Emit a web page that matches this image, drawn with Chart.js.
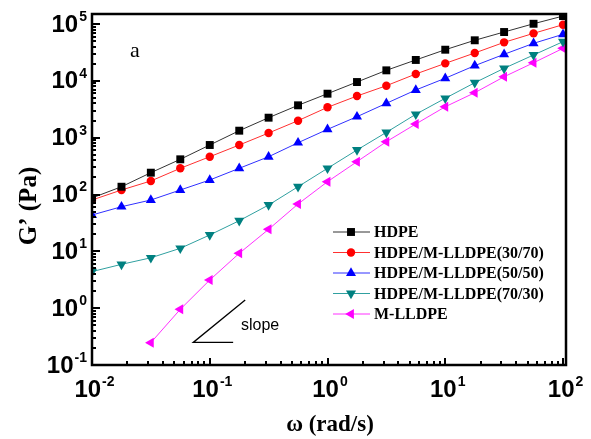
<!DOCTYPE html>
<html>
<head>
<meta charset="utf-8">
<script src="https://cdn.jsdelivr.net/npm/chart.js@4.4.0/dist/chart.umd.min.js"></script>
<style>
    html, body { margin: 0; padding: 0; background: #fff; }
    #wrap { width: 591px; height: 439px; position: relative; }
</style>
</head>
<body>
<div id="wrap"><canvas id="modulusChart"></canvas></div>
<script>
// ========== 储能模量 G' 数据 ==========

const omega = [0.01, 0.0178, 0.0316, 0.0562, 0.1, 0.178, 0.316, 0.562, 1, 1.78, 3.16, 5.62, 10, 17.8, 31.6, 56.2, 100];

const hdpe = [87, 137, 242, 416, 743, 1327, 2247, 3710, 5940, 9530, 15300, 23300, 35300, 51700, 72300, 101000, 138000];
const blend3070 = [80, 120, 173, 289, 462, 743, 1208, 1990, 3420, 5410, 8210, 13200, 20300, 30900, 47600, 68500, 97300];
const blend5050 = [43.6, 61, 80, 120, 180, 289, 462, 815, 1400, 2340, 4020, 6900, 11100, 18500, 29300, 45700, 65900];
const blend7030 = [4.4, 5.9, 7.7, 11.3, 19.4, 34.6, 65.3, 137, 289, 607, 1240, 2580, 4930, 9270, 16600, 28500, 48900];
const mlldpe = [null, null, 0.247, 0.955, 3.13, 9.23, 24.4, 68, 168, 378, 849, 1740, 3500, 6180, 11800, 20800, 37300];

const seriesNames = ['HDPE', 'HDPE/M-LLDPE(30/70)', 'HDPE/M-LLDPE(50/50)', 'HDPE/M-LLDPE(70/30)', 'M-LLDPE'];

// 坐标轴刻度 (10 的幂)
const xDecades = [-2, -1, 0, 1, 2];
const yDecades = [-1, 0, 1, 2, 3, 4, 5];

// 斜率示意三角 [ω, G']
const slopeCorner = [0.0724, 0.25];
const slopeTip = [0.2, 1.39];
const slopeBaseEnd = [0.158, 0.25];

const COLORS = {
    black: '#000000',
    red: '#ff0000',
    blue: '#0000ff',
    teal: '#008080',
    magenta: '#ff00ff'
};

function toPoints(values) {
    const pts = [];
    omega.forEach((w, i) => {
        if (values[i] !== null) pts.push({ x: w, y: values[i] });
    });
    return pts;
}

function makeDataset(label, values, color, lineColor, style, rotation, radius) {
    return {
        label: label,
        data: toPoints(values),
        borderColor: lineColor,
        backgroundColor: color,
        borderWidth: 1,
        pointStyle: style,
        rotation: rotation,
        pointRadius: radius,
        pointBorderWidth: 0,
        pointBorderColor: color,
        pointBackgroundColor: color,
        tension: 0
    };
}

function drawPow(ctx, exp, x, y, align) {
    // "10" + 上标指数
    const base = '10';
    const sup = String(exp);
    ctx.font = 'bold 24px "Liberation Sans", Arial, sans-serif';
    const wb = ctx.measureText(base).width;
    ctx.font = 'bold 14px "Liberation Sans", Arial, sans-serif';
    const ws = ctx.measureText(sup).width;
    let left;
    if (align === 'right') left = x - wb - ws;
    else left = x - (wb + ws) / 2;
    ctx.textBaseline = 'middle';
    ctx.textAlign = 'left';
    ctx.font = 'bold 24px "Liberation Sans", Arial, sans-serif';
    ctx.fillText(base, left, y);
    ctx.font = 'bold 14px "Liberation Sans", Arial, sans-serif';
    ctx.fillText(sup, left + wb + 1, y - 8);
}

const framePlugin = {
    id: 'frame',
    afterDraw(chart) {
        const ctx = chart.ctx;
        const area = chart.chartArea;
        const xs = chart.scales.x;
        const ys = chart.scales.y;
        ctx.save();
        ctx.fillStyle = '#000';
        ctx.strokeStyle = '#000';

        // 刻度线 (朝内)
        ctx.lineWidth = 2;
        ctx.beginPath();
        for (let d = -2; d <= 2; d++) {
            for (let m = 1; m <= 9; m++) {
                const v = m * Math.pow(10, d);
                if (v < xs.min || v > xs.max) continue;
                const px = Math.round(xs.getPixelForValue(v));
                const len = m === 1 ? 7 : 4;
                ctx.moveTo(px, area.bottom);
                ctx.lineTo(px, area.bottom - len);
            }
        }
        for (let d = -1; d <= 5; d++) {
            for (let m = 1; m <= 9; m++) {
                const v = m * Math.pow(10, d);
                if (v < ys.min || v > ys.max) continue;
                const py = Math.round(ys.getPixelForValue(v));
                const len = m === 1 ? 8 : 4;
                ctx.moveTo(area.left, py);
                ctx.lineTo(area.left + len, py);
            }
        }
        ctx.stroke();

        // 边框
        ctx.lineWidth = 2.5;
        ctx.strokeRect(area.left, area.top, area.right - area.left, area.bottom - area.top);

        // 刻度标签
        xDecades.forEach(d => {
            drawPow(ctx, d, xs.getPixelForValue(Math.pow(10, d)) + 2, area.bottom + 25, 'center');
        });
        yDecades.forEach(d => {
            drawPow(ctx, d, area.left - 6, ys.getPixelForValue(Math.pow(10, d)) + 1, 'right');
        });

        // 轴标题
        ctx.textAlign = 'center';
        ctx.textBaseline = 'alphabetic';
        ctx.font = 'bold 23px "Liberation Serif", "Times New Roman", serif';
        ctx.fillText('\u03c9 (rad/s)', (area.left + area.right) / 2 + 1, 431);
        ctx.save();
        ctx.translate(36, 206);
        ctx.rotate(-Math.PI / 2);
        ctx.font = 'bold 25px "Liberation Serif", "Times New Roman", serif';
        ctx.fillText('G\u2019 (Pa)', 0, 0);
        ctx.restore();

        // 面板标记
        ctx.textAlign = 'left';
        ctx.font = '22px "Liberation Serif", "Times New Roman", serif';
        ctx.fillText('a', 130, 57);

        // 斜率示意
        ctx.lineWidth = 1.3;
        ctx.beginPath();
        ctx.moveTo(xs.getPixelForValue(slopeTip[0]), ys.getPixelForValue(slopeTip[1]));
        ctx.lineTo(xs.getPixelForValue(slopeCorner[0]), ys.getPixelForValue(slopeCorner[1]));
        ctx.lineTo(xs.getPixelForValue(slopeBaseEnd[0]), ys.getPixelForValue(slopeBaseEnd[1]));
        ctx.stroke();
        ctx.font = '16px "Liberation Sans", Arial, sans-serif';
        ctx.textBaseline = 'middle';
        ctx.fillText('slope', 241, 326);

        // 图例
        const lx = 333, ly = 232, rowH = 20.5;
        chart.data.datasets.forEach((ds, i) => {
            const y = ly + i * rowH;
            ctx.strokeStyle = ds.borderColor;
            ctx.lineWidth = 1;
            ctx.beginPath();
            ctx.moveTo(lx, y);
            ctx.lineTo(lx + 37, y);
            ctx.stroke();
            ctx.fillStyle = ds.pointBackgroundColor;
            Chart.helpers.drawPoint(ctx, {
                pointStyle: ds.pointStyle,
                rotation: ds.rotation,
                radius: ds.pointRadius,
                borderWidth: 0
            }, lx + 18, y);
            ctx.fillStyle = '#000';
            ctx.font = 'bold 16px "Liberation Serif", "Times New Roman", serif';
            ctx.textBaseline = 'middle';
            ctx.fillText(ds.label, lx + 41, y + 1);
        });

        ctx.restore();
    }
};

function initModulusChart() {
    const ctx = document.getElementById('modulusChart');
    if (!ctx) return;

    new Chart(ctx, {
        type: 'line',
        data: {
            datasets: [
                makeDataset(seriesNames[0], hdpe, COLORS.black, '#333333', 'rect', 0, 5.6),
                makeDataset(seriesNames[1], blend3070, COLORS.red, '#ff3030', 'circle', 0, 4.2),
                makeDataset(seriesNames[2], blend5050, COLORS.blue, '#3030ff', 'triangle', 0, 5.8),
                makeDataset(seriesNames[3], blend7030, COLORS.teal, '#30a0a0', 'triangle', 180, 5.8),
                makeDataset(seriesNames[4], mlldpe, COLORS.magenta, '#ff30ff', 'triangle', -90, 5.8)
            ]
        },
        options: {
            responsive: true,
            maintainAspectRatio: false,
            animation: false,
            layout: {
                padding: { left: 92, top: 14, right: 25, bottom: 74 }
            },
            plugins: {
                legend: { display: false },
                tooltip: { enabled: false }
            },
            scales: {
                x: {
                    type: 'logarithmic',
                    min: 0.01,
                    max: 106,
                    grid: { display: false, drawTicks: false },
                    border: { display: false },
                    ticks: { display: false }
                },
                y: {
                    type: 'logarithmic',
                    min: 0.1,
                    max: 150000,
                    grid: { display: false, drawTicks: false },
                    border: { display: false },
                    ticks: { display: false }
                }
            }
        },
        plugins: [framePlugin]
    });
}

initModulusChart();
</script>
</body>
</html>
